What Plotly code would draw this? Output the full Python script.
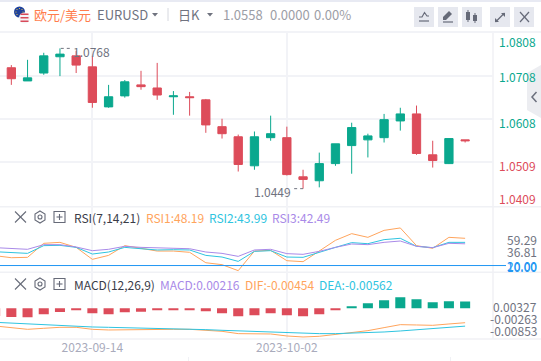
import plotly.graph_objects as go

dates = ["2023-09-06","2023-09-07","2023-09-08","2023-09-11","2023-09-12","2023-09-13","2023-09-14","2023-09-15",
         "2023-09-18","2023-09-19","2023-09-20","2023-09-21","2023-09-22","2023-09-25","2023-09-26","2023-09-27",
         "2023-09-28","2023-09-29","2023-10-02","2023-10-03","2023-10-04","2023-10-05","2023-10-06","2023-10-09",
         "2023-10-10","2023-10-11","2023-10-12","2023-10-13","2023-10-16","2023-10-17"]
opens = [1.0726,1.0724,1.0694,1.0712,1.0749,1.0751,1.0726,1.0635,1.0660,1.0685,1.0678,1.0658,1.0658,1.0651,1.0590,1.0567,
         1.0501,1.0565,1.0565,1.0476,1.0467,1.0506,1.0547,1.0560,1.0565,1.0603,1.0619,1.0526,1.0506,1.0560]
highs = [1.0735,1.0730,1.0742,1.0758,1.0768,1.0762,1.0751,1.0685,1.0696,1.0717,1.0735,1.0671,1.0669,1.0653,1.0608,1.0572,
         1.0579,1.0615,1.0590,1.0492,1.0531,1.0551,1.0599,1.0574,1.0619,1.0633,1.0638,1.0558,1.0563,1.0560]
lows = [1.0720,1.0685,1.0694,1.0708,1.0705,1.0712,1.0633,1.0633,1.0656,1.0674,1.0651,1.0617,1.0615,1.0576,1.0563,1.0488,
        1.0492,1.0558,1.0479,1.0449,1.0452,1.0501,1.0483,1.0520,1.0554,1.0581,1.0526,1.0497,1.0505,1.0554]
closes = [1.0729,1.0699,1.0701,1.0751,1.0755,1.0730,1.0645,1.0658,1.0692,1.0681,1.0662,1.0660,1.0656,1.0594,1.0574,1.0504,
          1.0567,1.0574,1.0481,1.0470,1.0506,1.0551,1.0588,1.0569,1.0606,1.0619,1.0529,1.0513,1.0563,1.0558]

rsi1 = [30.2,28.1,28.5,43.0,44.0,38.8,26.4,30.5,40.6,37.8,35.0,35.0,33.7,22.9,20.9,14.7,35.0,35.7,25.0,24.0,35.4,46.1,53.0,49.2,56.4,58.9,40.6,37.8,49.2,48.19]
rsi2 = [34.3,33.3,32.6,40.6,40.9,38.8,31.9,34.0,38.8,37.4,36.1,36.4,36.1,30.5,28.8,24.3,34.7,35.4,28.8,28.5,34.0,38.8,43.7,42.6,46.8,48.2,39.9,38.5,44.0,43.99]
rsi3 = [38.5,37.4,36.8,41.6,41.6,39.2,35.4,36.8,39.9,38.8,38.1,37.8,37.4,34.0,32.6,29.5,36.1,36.8,32.3,31.6,34.7,38.8,42.3,41.6,44.0,45.4,39.9,38.5,43.0,42.49]
rsi_level = 20

macd = [-.00242,-.00273,-.00284,-.00189,-.00116,-.00063,-.00158,-.00189,-.00126,-.00105,-.00063,-.00063,-.00032,-.00095,-.00158,-.00252,
        -.00221,-.00158,-.00221,-.00252,-.00189,-.00063,.00063,.00158,.00252,.00347,.00284,.00189,.00221,.00216]
dif = [-.00557,-.00609,-.00662,-.00630,-.00599,-.00599,-.00662,-.00683,-.00672,-.00662,-.00662,-.00662,-.00662,-.00693,-.00725,-.00798,
       -.00798,-.00809,-.00872,-.00903,-.00882,-.00819,-.00767,-.00704,-.00609,-.00515,-.00525,-.00536,-.00494,-.00454]
dea = [-.00441,-.00467,-.00483,-.00504,-.00525,-.00562,-.00588,-.00599,-.00609,-.00620,-.00630,-.00651,-.00662,-.00672,-.00693,-.00714,
       -.00725,-.00735,-.00756,-.00777,-.00798,-.00798,-.00788,-.00777,-.00746,-.00714,-.00672,-.00641,-.00609,-.00562]

date_ticks = ["2023-09-14", "2023-10-02"]
price_grid = [1.0705, 1.0608, 1.0510]
price_labels = ["1.0808", "1.0708", "1.0608", "1.0509", "1.0409"]
rsi_labels = ["59.29", "36.81", "20.00", "10.00"]
macd_labels = ["0.00327", "-0.00263", "-0.00853"]

W, H = 541, 361
GREEN, RED = "#0aa88e", "#dd4c5a"
ORANGE, CYAN, PURPLE = "#ffa45c", "#2ec4e0", "#a98ae8"
GRID, TXT, AX = "#f2f3f7", "#3a3c48", "#70737f"
FONT = "Noto Sans CJK SC"
PL, PR = 0, 493

px = lambda x: x / W
py = lambda y: 1 - y / H
def dom(top, bottom):
    return [py(bottom), py(top)]

fig = go.Figure()
fig.add_trace(go.Candlestick(x=dates, open=opens, high=highs, low=lows, close=closes, xaxis="x", yaxis="y",
    increasing=dict(line=dict(color=GREEN, width=1), fillcolor=GREEN),
    decreasing=dict(line=dict(color=RED, width=1), fillcolor=RED), whiskerwidth=0, hoverinfo="skip"))
for s, c in ((rsi1, ORANGE), (rsi2, CYAN), (rsi3, PURPLE)):
    fig.add_trace(go.Scatter(x=dates, y=s, mode="lines", line=dict(color=c, width=1), xaxis="x2", yaxis="y2"))
fig.add_trace(go.Bar(x=dates, y=macd, marker=dict(color=[GREEN if v >= 0 else RED for v in macd], line_width=0),
                     width=0.62, xaxis="x3", yaxis="y3"))
for s, c in ((dif, ORANGE), (dea, CYAN)):
    fig.add_trace(go.Scatter(x=dates, y=s, mode="lines", line=dict(color=c, width=1), xaxis="x3", yaxis="y3"))

shapes, ann = [], []
def line(x0, y0, x1, y1, color=GRID, width=1, dash=None):
    shapes.append(dict(type="line", xref="paper", yref="paper", x0=px(x0), x1=px(x1), y0=py(y0), y1=py(y1),
                       line=dict(color=color, width=width, dash=dash or "solid"), layer="below"))
def path(points, fill=None, color=None, width=1, close=True, layer="above"):
    d = "M" + " L".join(f"{px(a):.5f},{py(b):.5f}" for a, b in points) + (" Z" if close else "")
    shapes.append(dict(type="path", xref="paper", yref="paper", path=d, fillcolor=fill or "rgba(0,0,0,0)",
                       line=dict(color=color or "rgba(0,0,0,0)", width=width), layer=layer))
def rect(x0, y0, x1, y1, fill, layer="below"):
    shapes.append(dict(type="rect", xref="paper", yref="paper", x0=px(x0), x1=px(x1), y0=py(y0), y1=py(y1),
                       fillcolor=fill, line=dict(width=0), layer=layer))
def circle(cx, cy, r, fill, layer="above"):
    shapes.append(dict(type="circle", xref="paper", yref="paper", x0=px(cx-r), x1=px(cx+r), y0=py(cy+r), y1=py(cy-r),
                       fillcolor=fill, line=dict(width=0), layer=layer))
def text(x, y, s, color=TXT, size=12, anchor="left", weight=None):
    ann.append(dict(xref="paper", yref="paper", x=px(x), y=py(y), text=s, showarrow=False, xanchor=anchor, yanchor="middle",
                    font=dict(color=color, size=size, family=FONT, weight=weight or 400), borderpad=0, borderwidth=0))

# frame lines
rect(0, 0, W, 2, "#e8eaf3")
rect(0, 31, W, 33, GRID)
for y in (206.7, 272.3, 339):
    line(0, y, W, y, "#f0f1f5", 1.5)
line(PR, 33, PR, 339, "#f0f1f5", 1.5)
line(188.5, 357, 188.5, 361, "#f0f1f5", 1)
line(450.5, 357, 450.5, 361, "#f0f1f5", 1)
# right hand handle
path([(541, 65), (527, 73), (527, 110), (541, 118)], fill="#ecedf1", layer="below")
path([(536.5, 92), (532, 97), (536.5, 102)], color="#6b6f7d", width=1.5, close=False)

# header
circle(19.5, 12, 5.5, "#1f429c")
for a, b in ((19.5, 8.5), (16, 12), (23, 12), (17, 9.5), (22, 9.5), (17, 14.5), (22, 14.5)):
    circle(a, b, 0.6, "#f6cf3c")
circle(24.5, 18, 5.5, "#f4f4f6")
for y0, y1 in ((13.5, 15), (17, 18.5), (20.5, 22)):
    rect(20.5, y0, 28.5, y1, "#d94a5a", layer="above")
text(34, 14.5, "欧元/美元", "#ff7d4d", 13)
text(96.5, 14.5, "EURUSD", AX, 13)
path([(152, 13), (158, 13), (155, 16.5)], fill=AX)
line(168, 8, 168, 21, "#d6d8df", 1)
text(178, 14.5, "日K", AX, 13)
path([(207, 13), (213, 13), (210, 16.5)], fill=AX)
text(223, 14.5, "1.0558", "#9c9ea6", 13)
text(270, 14.5, "0.0000", "#9c9ea6", 13)
text(314, 14.5, "0.00%", "#9c9ea6", 13)
for x0 in (414, 438, 462, 490, 514):
    shapes.append(dict(type="rect", xref="paper", yref="paper", x0=px(x0), x1=px(x0 + 20), y0=py(27), y1=py(7),
                       fillcolor="#e6e8ef", line=dict(width=0), layer="below"))
I = "#666a78"
path([(419, 17), (422, 17), (424.5, 12.5), (427, 16), (429, 16)], color=I, width=1.2, close=False)
path([(419, 21), (429, 21)], color=I, width=1.2, close=False)
path([(443, 20), (443, 17), (449, 11), (452, 14), (446, 20)], fill=I)
path([(443, 22), (453, 22)], color=I, width=1.2, close=False)
for x0, y0, y1 in ((468, 12, 20), (475, 15, 21)):
    rect(x0 - 2, y0, x0 + 2, y1, I, layer="above")
    path([(x0, y0 - 2), (x0, y1 + 2)], color=I, width=1, close=False)
path([(495.5, 22), (504.5, 13)], color=I, width=1.2, close=False)
path([(501, 13), (505, 13), (505, 17)], fill=I)
path([(495, 18), (495, 22), (499, 22)], fill=I)
path([(520, 12), (529, 22)], color=I, width=1.2, close=False)
path([(529, 12), (520, 22)], color=I, width=1.2, close=False)

# price labels
for s, y, c in zip(price_labels, (41, 77, 122, 165, 198), (GREEN, GREEN, GREEN, RED, RED)):
    text(536, y, s, c, 12, "right")
# high / low markers
shapes.append(dict(type="line", xref="x", yref="y", x0=4.05, x1=4.75, y0=highs[4], y1=highs[4], line=dict(color=AX, width=1, dash="dot")))
shapes.append(dict(type="line", xref="x", yref="y", x0=18.45, x1=19.0, y0=lows[19], y1=lows[19], line=dict(color=AX, width=1, dash="dot")))
text(72.5, 52, "1.0768", AX, 12)
text(254, 191, "1.0449", AX, 12)

# indicator headers
def panel_icons(y):
    path([(15, y - 5.5), (26, y + 5.5)], color="#666a78", width=1.1, close=False)
    path([(26, y - 5.5), (15, y + 5.5)], color="#666a78", width=1.1, close=False)
    path([(40, y - 6), (45, y - 3), (45, y + 3), (40, y + 6), (35, y + 3), (35, y - 3)], color="#666a78", width=1.1)
    shapes.append(dict(type="circle", xref="paper", yref="paper", x0=px(38), x1=px(42), y0=py(y + 2), y1=py(y - 2),
                       line=dict(color="#666a78", width=1.1)))
    path([(54, y - 5.5), (65, y - 5.5), (65, y + 5.5), (54, y + 5.5)], color="#666a78", width=1.1)
    path([(56.5, y), (62.5, y)], color="#666a78", width=1.1, close=False)
    path([(59.5, y - 3), (59.5, y + 3)], color="#666a78", width=1.1, close=False)
panel_icons(217)
panel_icons(284)
text(74, 217, "RSI(7,14,21)", TXT, 12)
text(146, 217, "RSI1:48.19", ORANGE, 12)
text(209, 217, "RSI2:43.99", CYAN, 12)
text(272, 217, "RSI3:42.49", PURPLE, 12)
text(74, 284.5, "MACD(12,26,9)", TXT, 12)
text(160, 284.5, "MACD:0.00216", PURPLE, 12)
text(245, 284.5, "DIF:-0.00454", ORANGE, 12)
text(319, 284.5, "DEA:-0.00562", CYAN, 12)
for s, y, c in zip(rsi_labels, (239.7, 251.7, 265.0, 266.0), (AX, AX, "#2196f3", "#2196f3")):
    text(537, y, s, c, 12, "right")
for s, y in zip(macd_labels, (306.7, 318.7, 330.7)):
    text(537, y, s, AX, 12, "right")

# RSI level line
shapes.append(dict(type="line", xref="paper", yref="y2", x0=0, x1=px(506), y0=rsi_level, y1=rsi_level,
                   line=dict(color="#2196f3", width=1)))

base_x = dict(type="category", categoryorder="array", categoryarray=dates, range=[0.30, 30.72], domain=[px(PL), px(PR)],
              tickmode="array", tickvals=date_ticks, showgrid=True, gridcolor=GRID, gridwidth=1.5, zeroline=False,
              showline=False, ticks="", fixedrange=True)
layout = dict(
    width=W, height=H, margin=dict(l=0, r=0, t=0, b=0), paper_bgcolor="white", plot_bgcolor="white",
    showlegend=False, boxgap=0.27, boxmode="overlay", bargap=0.38, shapes=shapes, annotations=ann,
    font=dict(family=FONT),
    xaxis=dict(base_x, anchor="y", showticklabels=False, rangeslider=dict(visible=False)),
    xaxis2=dict(base_x, anchor="y2", showticklabels=False),
    xaxis3=dict(base_x, anchor="y3", showticklabels=True, tickfont=dict(color="#a9abbc", size=12, family=FONT), ticklabelposition="outside"),
    yaxis=dict(domain=dom(33, 206.7), range=[1.0408, 1.0803], tickmode="array", tickvals=price_grid, showticklabels=False,
               showgrid=True, gridcolor=GRID, gridwidth=1.5, zeroline=False, fixedrange=True, anchor="x"),
    yaxis2=dict(domain=dom(206.7, 272.3), range=[13.0, 80.9], showticklabels=False, showgrid=False, zeroline=False, fixedrange=True, anchor="x2"),
    yaxis3=dict(domain=dom(272.3, 339), range=[-.00967, .01134], showticklabels=False, showgrid=False, zeroline=False, fixedrange=True, anchor="x3"),
)
fig.update_layout(**layout)
fig.write_html("out.html", config=dict(displayModeBar=False),
               post_script="document.body.style.margin='0';document.body.style.overflow='hidden';")
